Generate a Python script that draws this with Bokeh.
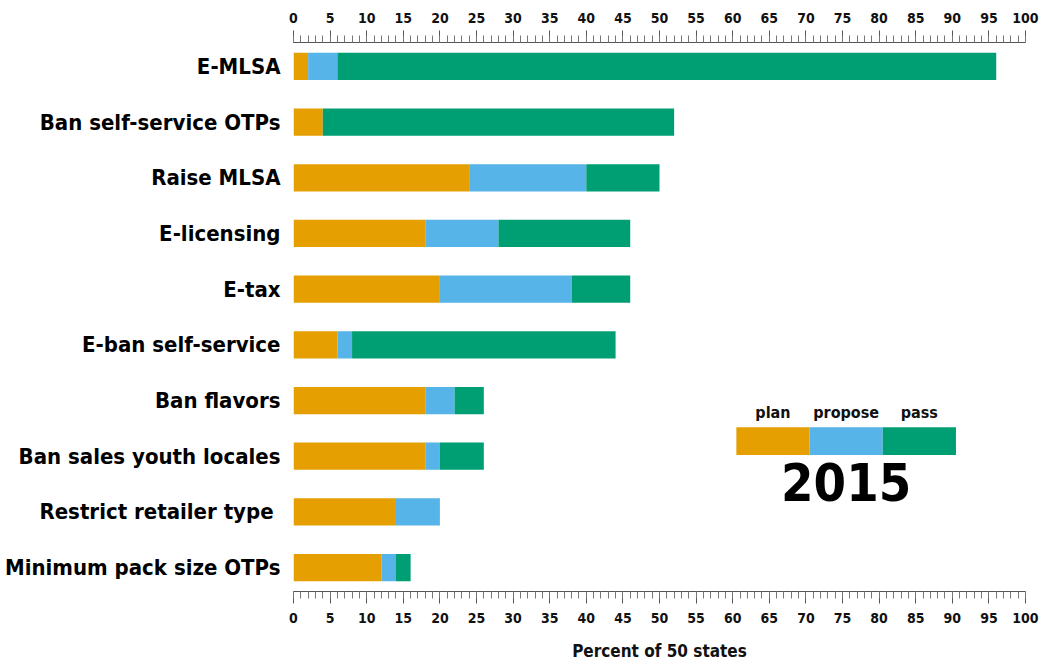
from bokeh.plotting import figure
from bokeh.models import (FactorRange, Range1d, LinearAxis, SingleIntervalTicker,
                          ColumnDataSource)
from bokeh.core.properties import value
from bokeh.embed import file_html
from bokeh.resources import INLINE

categories = ["E-MLSA", "Ban self-service OTPs", "Raise MLSA", "E-licensing", "E-tax",
              "E-ban self-service", "Ban flavors", "Ban sales youth locales",
              "Restrict  retailer type", "Minimum pack size OTPs"]
plan = [2, 4, 24, 18, 20, 6, 18, 18, 14, 12]
propose = [4, 0, 16, 10, 18, 2, 4, 2, 6, 2]
passed = [90, 48, 10, 18, 8, 36, 4, 6, 0, 2]
series = ["plan", "propose", "pass"]
colors = ["#E69F00", "#56B4E9", "#009E73"]
year = "2015"
x_title = "Percent of 50 states"

FONT = "DejaVu Sans Condensed"

p = figure(frame_width=732, frame_height=549, output_backend="svg", toolbar_location=None,
           y_range=FactorRange(factors=categories[::-1], range_padding=-0.07,
                               range_padding_units="absolute"),
           x_range=Range1d(0, 100), x_axis_location="below",
           min_border_left=293, min_border_right=23, min_border_top=42,
           min_border_bottom=73)
p.outline_line_color = None
p.grid.visible = False
p.background_fill_color = "white"
p.border_fill_color = "white"

src = ColumnDataSource(dict(cat=categories, plan=plan, propose=propose, passed=passed))
p.hbar_stack(["plan", "propose", "passed"], y="cat", height=0.49, color=colors,
             line_color=None, source=src)

# legend drawn in data space
lx = [60.5, 70.5, 80.5, 90.5]
ly = [("Ban sales youth locales", 0.27)] * 3
p.hbar(y=ly, left=lx[:3], right=lx[1:], height=0.5, color=colors, line_color=None)
p.text(x=[(a + b) / 2 for a, b in zip(lx[:3], lx[1:])],
       y=[("Ban sales youth locales", 0.79)] * 3, text=series,
       text_font=value(FONT), text_font_style="bold", text_font_size="16px",
       text_align="center", text_baseline="middle", text_color="#111111")
p.text(x=[75.5], y=[("Restrict  retailer type", 0.53)], text=[year],
       text_font=value(FONT), text_font_style="bold", text_font_size="52px",
       text_align="center", text_baseline="middle", text_color="black")

ticker = SingleIntervalTicker(interval=5, num_minor_ticks=5)
bottom = p.below[0]
top = LinearAxis(ticker=ticker)
p.add_layout(top, "above")
for ax in (bottom, top):
    ax.ticker = ticker
    ax.axis_line_color = "#555555"
    ax.major_tick_line_color = "#555555"
    ax.minor_tick_line_color = "#777777"
    ax.major_tick_out = 12
    ax.major_tick_in = 0
    ax.minor_tick_out = 7
    ax.minor_tick_in = 0
    ax.major_label_text_font = FONT
    ax.major_label_text_font_style = "bold"
    ax.major_label_text_font_size = "14px"
    ax.major_label_text_color = "#111111"
top.major_label_standoff = 8
bottom.major_label_standoff = 9
bottom.axis_label = x_title
bottom.axis_label_text_font = FONT
bottom.axis_label_text_font_style = "bold"
bottom.axis_label_text_font_size = "17px"
bottom.axis_label_text_color = "#111111"
bottom.axis_label_standoff = 15

ya = p.yaxis[0]
ya.axis_line_color = None
ya.major_tick_line_color = None
ya.minor_tick_line_color = None
ya.major_label_text_font = FONT
ya.major_label_text_font_style = "bold"
ya.major_label_text_font_size = "22px"
ya.major_label_text_color = "black"
ya.major_label_standoff = 7

open("out.html", "w").write(file_html(p, INLINE))
